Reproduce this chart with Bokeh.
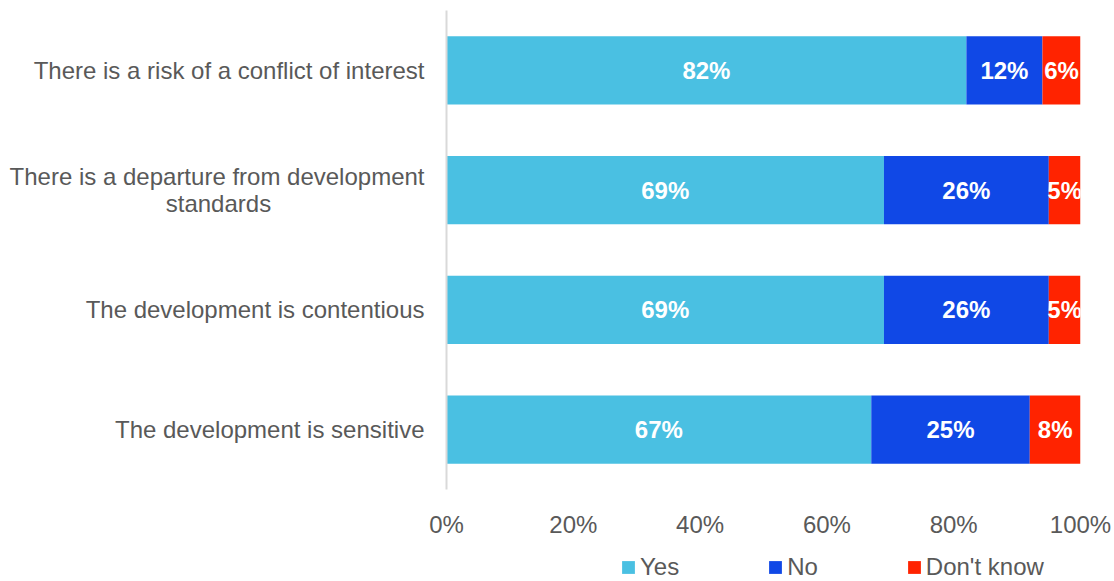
from bokeh.plotting import figure
from bokeh.layouts import column
from bokeh.models import (ColumnDataSource, Range1d, FixedTicker, LabelSet,
                          Legend, LegendItem)
from bokeh.core.properties import value
from bokeh.embed import file_html
from bokeh.resources import INLINE

NB = "\u00a0"
categories = [
    "There is a risk of a conflict of interest",
    "There is a departure from development\nstandards" + NB * 23,
    "The development is contentious",
    "The development is sensitive",
]
yes = [82, 69, 69, 67]
no = [12, 26, 26, 25]
dont_know = [6, 5, 5, 8]
series_names = ["Yes", "No", "Don't know"]
colors = ["#4AC0E2", "#1048E6", "#FF2300"]
x_ticks = [0, 20, 40, 60, 80, 100]
x_tick_labels = ["0%", "20%", "40%", "60%", "80%", "100%"]

FONT = "Liberation Sans"
GREY = "#595959"
FS = "24px"

n = len(categories)
ypos = [n - i - 0.5 for i in range(n)]  # first category on top

src = ColumnDataSource(dict(y=ypos, Yes=yes, No=no, DK=dont_know))

p = figure(
    width=1114, height=540,
    y_range=Range1d(0, n), x_range=Range1d(0, 100),
    output_backend="svg", toolbar_location=None,
    min_border_left=446, min_border_right=34, min_border_top=10, min_border_bottom=45,
)
p.outline_line_color = None
p.xgrid.visible = False
p.ygrid.visible = False

p.hbar_stack(["Yes", "No", "DK"], y="y", height=0.57, color=colors,
             line_color=None, source=src)

# data labels
lx, ly, lt = [], [], []
for y, a, b, d in zip(ypos, yes, no, dont_know):
    for start, v in ((0, a), (a, b), (a + b, d)):
        lx.append(start + v / 2)
        ly.append(y)
        lt.append(f"{v}%")
lsrc = ColumnDataSource(dict(x=lx, y=ly, t=lt))
p.add_layout(LabelSet(x="x", y="y", text="t", source=lsrc, text_align="center",
                      text_baseline="middle", text_color="white", text_font=value(FONT),
                      text_font_style="bold", text_font_size=FS))

# axes
xa = p.xaxis[0]
xa.ticker = FixedTicker(ticks=x_ticks)
xa.major_label_overrides = dict(zip(x_ticks, x_tick_labels))
xa.axis_line_color = None
xa.major_tick_line_color = None
xa.minor_tick_line_color = None
xa.major_label_text_font = FONT
xa.major_label_text_font_size = FS
xa.major_label_text_color = GREY
xa.major_label_standoff = 15

ya = p.yaxis[0]
ya.ticker = FixedTicker(ticks=ypos)
ya.major_label_overrides = dict(zip(ypos, categories))
ya.axis_line_color = "#D9D9D9"
ya.axis_line_width = 2
ya.major_tick_line_color = None
ya.minor_tick_line_color = None
ya.major_label_text_font = FONT
ya.major_label_text_font_size = FS
ya.major_label_text_color = GREY
ya.major_label_text_line_height = 0.98
ya.major_label_standoff = 16

# legend strip below the chart (frame aligned with the chart's frame)
q = figure(width=1114, height=41, x_range=Range1d(0, 1), y_range=Range1d(0, 1),
           output_backend="svg", toolbar_location=None,
           min_border_left=446, min_border_right=34, min_border_top=0, min_border_bottom=0)
q.axis.visible = False
q.grid.visible = False
q.outline_line_color = None
items = []
for s, c in zip(series_names, colors):
    # zero-width swatch carrier so the legend has a glyph to draw
    r = q.hbar(y=[0], left=[0], right=[0], height=0, color=c, line_color=None)
    items.append(LegendItem(label=s, renderers=[r]))
lg = Legend(items=items)
lg.orientation = "horizontal"
lg.location = (174, 0)
lg.glyph_width = 16
lg.glyph_height = 16
lg.label_standoff = 4
lg.spacing = 88
lg.padding = 0
lg.margin = 0
lg.border_line_color = None
lg.background_fill_alpha = 0
lg.label_text_font = FONT
lg.label_text_font_size = FS
lg.label_text_color = GREY
q.add_layout(lg, "center")

open("out.html", "w").write(file_html(column(p, q), INLINE))
